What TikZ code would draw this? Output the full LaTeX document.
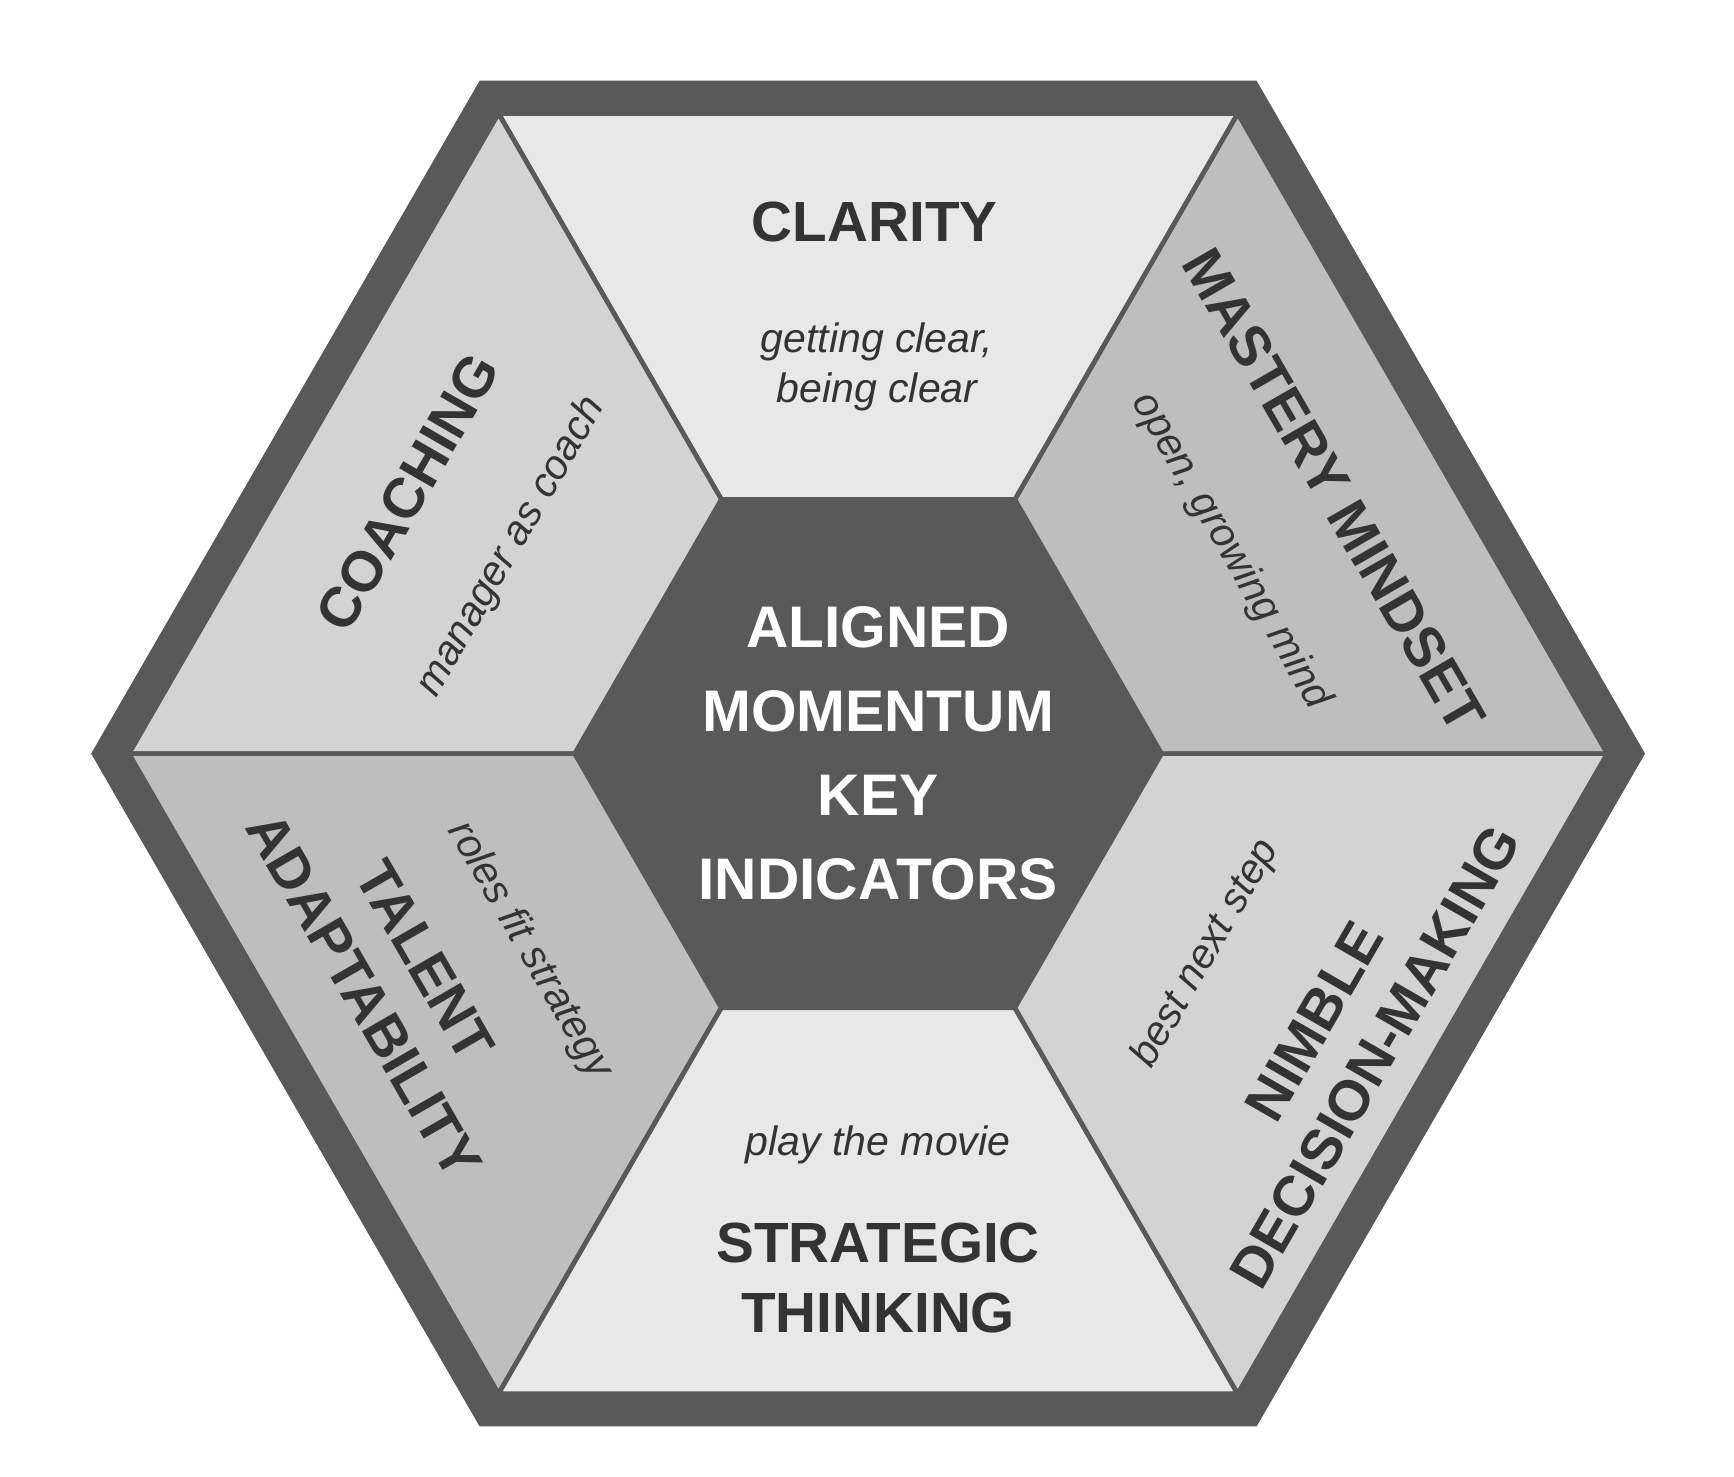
\documentclass[tikz,border=0pt]{standalone}
\usepackage{fontspec}
\setmainfont{Liberation Sans}
\usetikzlibrary{calc}
\begin{document}
\begin{tikzpicture}[x=0.01cm,y=-0.01cm]
\definecolor{dk}{HTML}{595959}
\definecolor{tx}{HTML}{333333}
\definecolor{lA}{HTML}{E8E8E8}
\definecolor{lB}{HTML}{D3D3D3}
\definecolor{lC}{HTML}{BEBEBE}
\tikzset{title/.style={font=\bfseries\fontsize{14.5}{17}\selectfont,text=tx,align=center,inner sep=1pt},
 sub/.style={font=\itshape\fontsize{10.5}{13}\selectfont,text=tx,align=center,inner sep=1pt},
 seg/.style={draw=dk,line width=1.2pt,line join=miter}}
\useasboundingbox (0,0) rectangle (1560,1328);
\coordinate (C) at (781,678);
\fill[dk] ($(C)+(0:699)$) \foreach \a in {60,120,...,300}{ -- ($(C)+(-\a:699)$)} -- cycle;
\foreach \i/\c in {0/lC,1/lA,2/lB,3/lC,4/lA,5/lB}{
 \pgfmathsetmacro{\a}{\i*60}\pgfmathsetmacro{\b}{\i*60+60}
 \filldraw[seg,fill=\c] ($(C)+(-\a:665)$) -- ($(C)+(-\b:665)$) -- ($(C)+(-\b:264)$) -- ($(C)+(-\a:264)$) -- cycle;
}
\fill[dk] ($(C)+(0:264)$) \foreach \a in {60,120,...,300}{ -- ($(C)+(-\a:264)$)} -- cycle;
\node[title,text=white,font=\bfseries\fontsize{15}{21.5}\selectfont] (ctr) at (790,678) {ALIGNED\\MOMENTUM\\KEY\\INDICATORS};
\node[title] (clar) at (787,200) {CLARITY};
\node[sub] (clars) at (789,330) {getting clear,\\being clear};
\node[title,rotate=60] (coach) at (367,443) {COACHING};
\node[sub,rotate=60] (coachs) at (460,492) {manager as coach};
\node[title,rotate=-60] (mast) at (1200,441) {MASTERY MINDSET};
\node[sub,rotate=-60] (masts) at (1107,496) {open, growing mind};
\node[title,rotate=60,font=\bfseries\fontsize{14.5}{18}\selectfont] (nim) at (1210,935) {NIMBLE\\DECISION-MAKING};
\node[sub,rotate=60] (nims) at (1085,858) {best next step};
\node[title,rotate=-60,font=\bfseries\fontsize{14.5}{18}\selectfont] (tal) at (355,880) {TALENT\\ADAPTABILITY};
\node[sub,rotate=-60] (tals) at (476,855) {roles fit strategy};
\node[sub] (strs) at (790,1030) {play the movie};
\node[title,font=\bfseries\fontsize{14.5}{18}\selectfont] (str) at (790,1150) {STRATEGIC\\THINKING};
\end{tikzpicture}
\end{document}
